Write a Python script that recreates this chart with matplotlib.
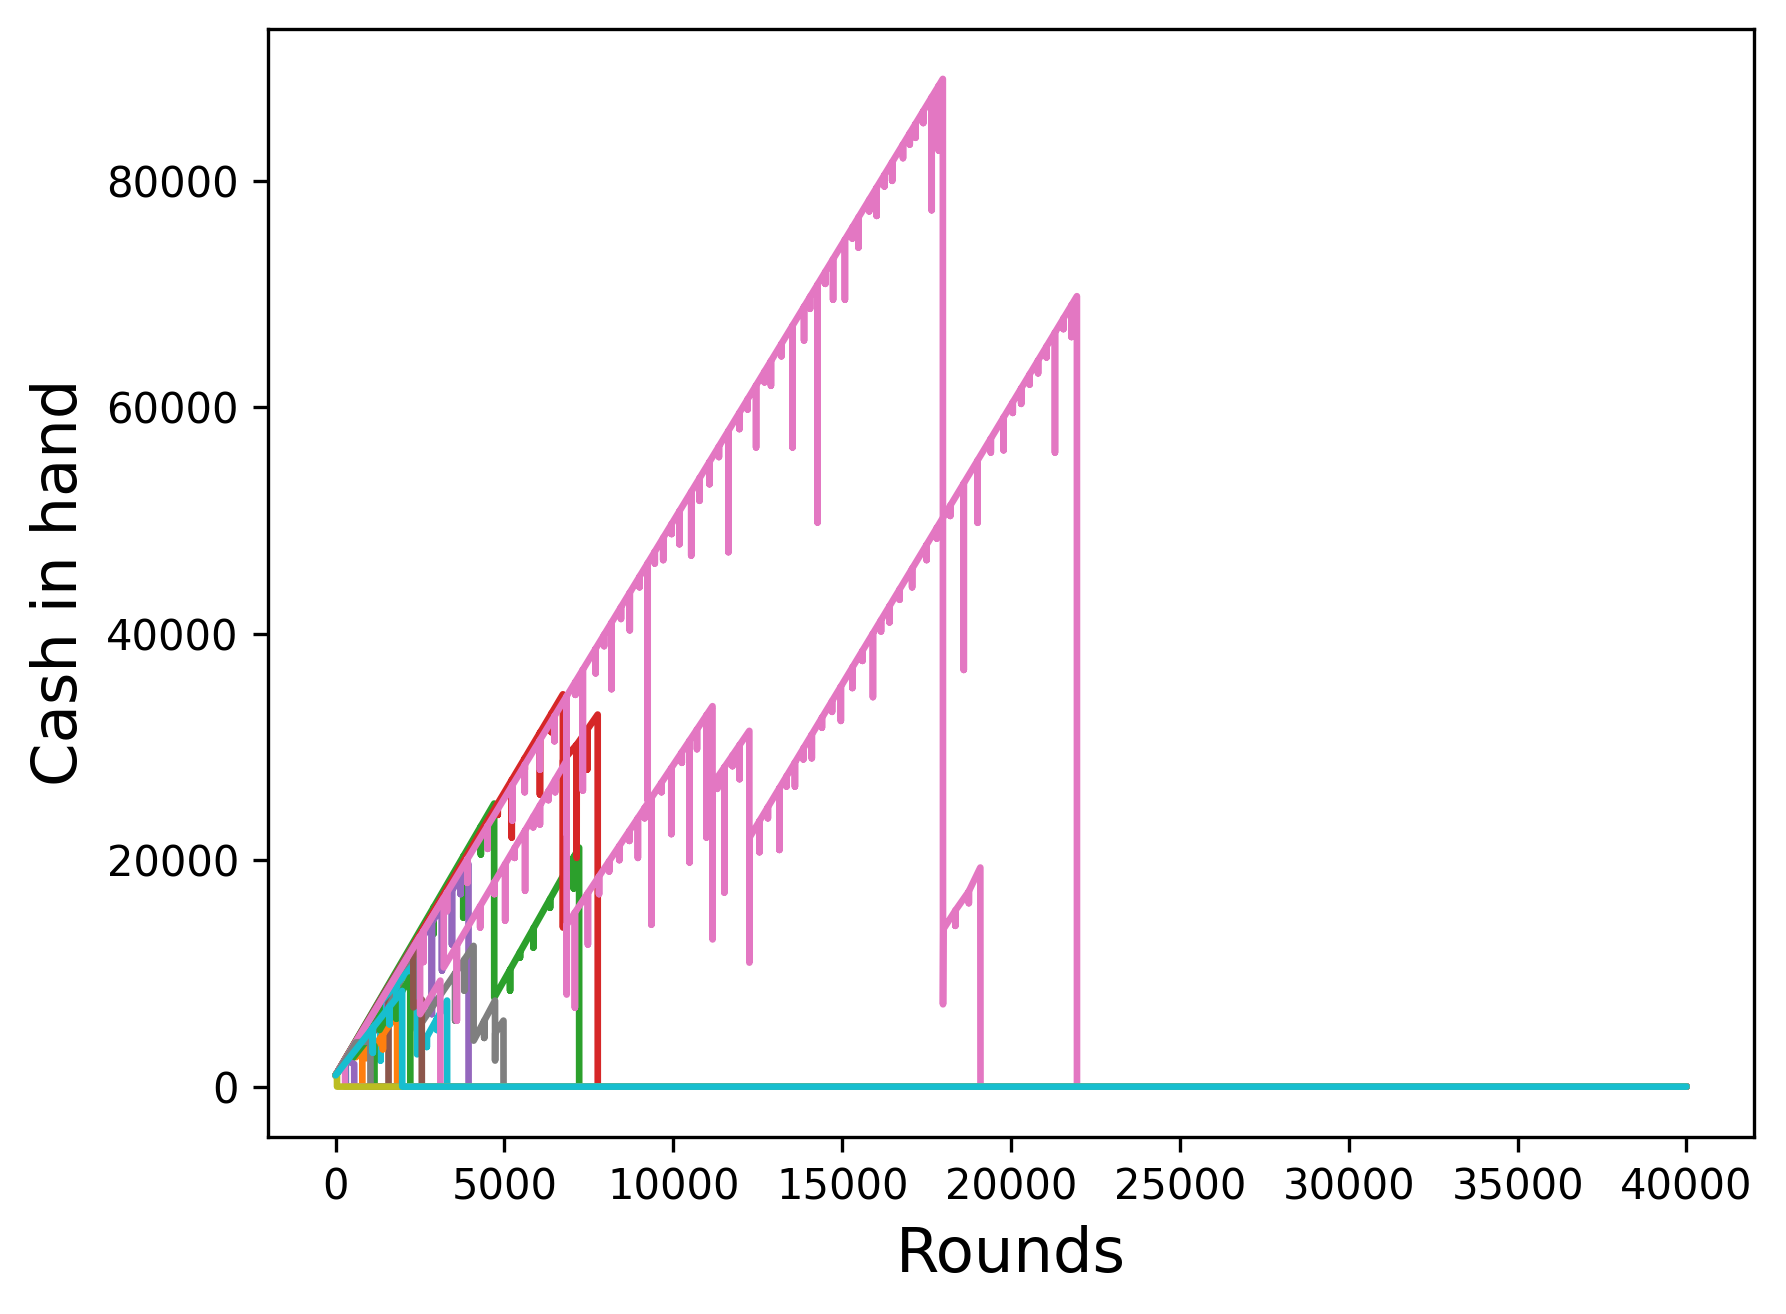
import matplotlib
matplotlib.use("Agg")
import matplotlib.pyplot as plt

# ---------------- data (rounds, cash) ----------------
# each series: knots = path vertices (round, cash); drips = (round, cash before, cash at bottom)
x_label = "Rounds"
y_label = "Cash in hand"

blue_knots = [(0, 1000), (300, 2300), (302, 0), (40000, 0)]
blue_drips = []

orange1_knots = [(0, 1000), (350, 2800), (600, 3900), (602, 2600), (790, 3300), (792, 0), (40000, 0)]
orange1_drips = []

green1_knots = [(0, 1000), (4694, 25000), (4697, 7860), (7210, 21110), (7212, 0), (40000, 0)]
green1_drips = [(2900, 15830, 13500), (3780, 20330, 14930), (4300, 22990, 20500),
                (5165, 10328, 8480), (5460, 11883, 11400), (5855, 13966, 12280),
                (6350, 16576, 15800), (6800, 18949, 18200), (7050, 20267, 17500)]

red1_knots = [(0, 1000), (6730, 34650), (6732, 14050), (6736, 28800), (7135, 30200),
              (7137, 20200), (7140, 30200), (7760, 32860), (7762, 0), (40000, 0)]
red1_drips = [(4800, 25000, 24000), (5215, 27075, 22000), (5600, 29000, 28000),
              (6050, 31250, 25800), (6390, 32950, 31300), (7450, 31530, 28000)]

purple1_knots = [(0, 1000), (3935, 19640), (3937, 0), (40000, 0)]
purple1_drips = [(1500, 8106, 7000), (2300, 11895, 8200), (2850, 14500, 6400),
                 (3150, 15922, 10250), (3445, 17319, 12550), (3700, 18527, 17000)]

brown1_knots = [(0, 1000), (1565, 8900), (1567, 0), (40000, 0)]
brown1_drips = [(1200, 7050, 5000)]

gray1_knots = [(0, 1000), (1500, 6500), (2400, 12500), (2402, 5000), (4085, 12430), (4087, 4060),
               (4720, 7600), (4722, 2300), (4725, 4700), (4970, 5830), (4972, 0), (40000, 0)]
gray1_drips = [(3540, 10020, 5830), (3810, 11210, 8480), (4400, 5810, 4300)]

pinkA_knots = [(0, 1000), (17980, 89000), (17985, 7270), (17995, 13900), (19090, 19350),
               (19095, 0), (40000, 0)]
pinkA_drips = [(1800, 9809, 8600), (2600, 13724, 11000), (3300, 17150, 15500), (3900, 20087, 18000),
               (4500, 23023, 21000), (5230, 26596, 23500), (5600, 28406, 26000), (6050, 30609, 28000),
               (6480, 32713, 30500), (6840, 34475, 22300), (7100, 35747, 34600), (7320, 36824, 26150),
               (7700, 38684, 36500), (7950, 39907, 38900), (8170, 40984, 35100), (8450, 42354, 41300),
               (8710, 43627, 40300), (9000, 45046, 44100), (9240, 46221, 25300), (9450, 47248, 46200),
               (9700, 48472, 46500), (9950, 49695, 48800), (10180, 50821, 47900), (10530, 52534, 46900),
               (10775, 53733, 51740), (11070, 55177, 53200), (11350, 56547, 55600), (11630, 57918, 47200),
               (11955, 59508, 58070), (12200, 60707, 59800), (12450, 61930, 56450), (12700, 63154, 62200),
               (12890, 64084, 61900), (13200, 65601, 64500), (13530, 67216, 56450), (13870, 68880, 65900),
               (14050, 69761, 68700), (14270, 70837, 49820), (14500, 71963, 70900), (14730, 73089, 69500),
               (15080, 74802, 69500), (15300, 75878, 74900), (15480, 76759, 74100), (15800, 78325, 77300),
               (16020, 79402, 76900), (16250, 80528, 79500), (16480, 81653, 80000), (16800, 83219, 82000),
               (17000, 84198, 83200), (17170, 85030, 83800), (17400, 86156, 85100), (17650, 87380, 77400),
               (17860, 88408, 82660),
               (18350, 15550, 14200), (18750, 17250, 16200)]

cyan1_knots = [(0, 1000), (1330, 7460), (2410, 11100), (2412, 2850), (3300, 7600), (3302, 0), (40000, 0)]
cyan1_drips = [(1000, 5850, 4200), (1329, 7450, 2300), (1800, 9040, 6500), (2700, 4390, 3500),
               (3000, 5990, 5000)]

orange2_knots = [(0, 1000), (900, 5200), (902, 2500), (1820, 6400), (1822, 0), (40000, 0)]
orange2_drips = [(1400, 4620, 3300)]

green2_knots = [(0, 1000), (1300, 7200), (1302, 5000), (2210, 9660), (2212, 0), (40000, 0)]
green2_drips = [(1800, 7560, 6000)]

green3_knots = [(0, 1000), (500, 3400), (502, 2500), (900, 4000), (1150, 3600), (1152, 0), (40000, 0)]
green3_drips = []

purple2_knots = [(0, 1000), (300, 2300), (550, 2000), (552, 0), (40000, 0)]
purple2_drips = []

brown2_knots = [(0, 1000), (2300, 12500), (2302, 7000), (2550, 7700), (2552, 0), (40000, 0)]
brown2_drips = []

pinkL_knots = [(0, 1000), (3200, 16650), (3202, 10530), (6840, 28800), (6842, 8130), (6845, 14300),
               (11160, 33600), (11162, 13000), (11165, 26700), (12250, 31420), (12252, 10950),
               (12255, 22000), (21950, 69810), (21952, 0), (40000, 0)]
pinkL_drips = [(3590, 12478, 5830), (4280, 15944, 14050), (4700, 18053, 17000), (5020, 19660, 14660),
               (5300, 21066, 20200), (5610, 22623, 17300), (5850, 23828, 22900), (6050, 24833, 23150),
               (6300, 26088, 25300), (6500, 27092, 26000),
               (7085, 15374, 6980), (7470, 17096, 12550), (7800, 18572, 17000), (8100, 19914, 19000),
               (8400, 21256, 20000), (8700, 22598, 21700), (8950, 23716, 20200), (9150, 24611, 23700),
               (9350, 25505, 14300), (9650, 26847, 26000), (9940, 28144, 22300), (10250, 29531, 28600),
               (10480, 30560, 19800), (10700, 31544, 29800), (10980, 32796, 22000),
               (11300, 27287, 26300), (11510, 28201, 17140), (11750, 29245, 28300), (11960, 30158, 27150),
               (12550, 23455, 20700), (12800, 24687, 23700), (13140, 26364, 20900), (13350, 27400, 26500),
               (13600, 28632, 26500), (13850, 29865, 28900), (14100, 31098, 29000), (14400, 32577, 31700),
               (14700, 34056, 33100), (14960, 35338, 32300), (15300, 37015, 35200), (15600, 38494, 37600),
               (15910, 40023, 34400), (16150, 41206, 40200), (16400, 42439, 41000), (16700, 43918, 43000),
               (17070, 45743, 44100), (17500, 47863, 46500), (17800, 49342, 48400), (18200, 51314, 50400),
               (18600, 53287, 36800), (19010, 55309, 49800), (19400, 57232, 56000), (19780, 59106, 56200),
               (20050, 60438, 59500), (20300, 61670, 60300), (20550, 62903, 62000), (20800, 64135, 63000),
               (21050, 65368, 64400), (21300, 66600, 56000), (21550, 67833, 66900), (21790, 69016, 66200)]

pinkS_knots = [(0, 1000), (2500, 13300), (2502, 6400), (3100, 9360), (3102, 0), (40000, 0)]
pinkS_drips = []

pinkE_knots = [(0, 1000), (200, 1900), (280, 2300), (282, 0), (40000, 0)]
pinkE_drips = []

gray2_knots = [(0, 1000), (600, 3900), (1030, 4000), (1032, 0), (40000, 0)]
gray2_drips = []

olive_knots = [(0, 1000), (40, 1150), (42, 0), (40000, 0)]
olive_drips = []

cyan2_knots = [(0, 1000), (1970, 8450), (1972, 0), (40000, 0)]
cyan2_drips = [(1100, 5180, 3000), (1600, 7070, 5500)]

# draw order and colours
series = [
    (blue_knots, blue_drips, "C0"),
    (orange1_knots, orange1_drips, "C1"),
    (green1_knots, green1_drips, "C2"),
    (red1_knots, red1_drips, "C3"),
    (purple1_knots, purple1_drips, "C4"),
    (brown1_knots, brown1_drips, "C5"),
    (gray1_knots, gray1_drips, "C7"),
    (pinkA_knots, pinkA_drips, "C6"),
    (cyan1_knots, cyan1_drips, "C9"),
    (orange2_knots, orange2_drips, "C1"),
    (green2_knots, green2_drips, "C2"),
    (green3_knots, green3_drips, "C2"),
    (purple2_knots, purple2_drips, "C4"),
    (brown2_knots, brown2_drips, "C5"),
    (pinkL_knots, pinkL_drips, "C6"),
    (pinkS_knots, pinkS_drips, "C6"),
    (pinkE_knots, pinkE_drips, "C6"),
    (gray2_knots, gray2_drips, "C7"),
    (olive_knots, olive_drips, "C8"),
    (cyan2_knots, cyan2_drips, "C9"),
]


def vertices(knots, drips):
    pts = [(x, y) for x, y in knots]
    for x, top, bot in drips:
        pts += [(x, top), (x, bot), (x, top)]
    order = sorted(range(len(pts)), key=lambda i: pts[i][0])
    return [pts[i][0] for i in order], [pts[i][1] for i in order]


fig = plt.figure(figsize=(1786 / 300, 1314 / 300), dpi=300)
ax = fig.add_axes([0.1501, 0.1347, 0.8320, 0.8436])

for knots, drips, col in series:
    xs, ys = vertices(knots, drips)
    ax.plot(xs, ys, color=col, lw=1.6, solid_joinstyle="round", solid_capstyle="round")

ax.tick_params(labelsize=10)
ax.set_xlabel(x_label, fontsize=15)
ax.set_ylabel(y_label, fontsize=15)

fig.savefig("out.png", dpi=300)
